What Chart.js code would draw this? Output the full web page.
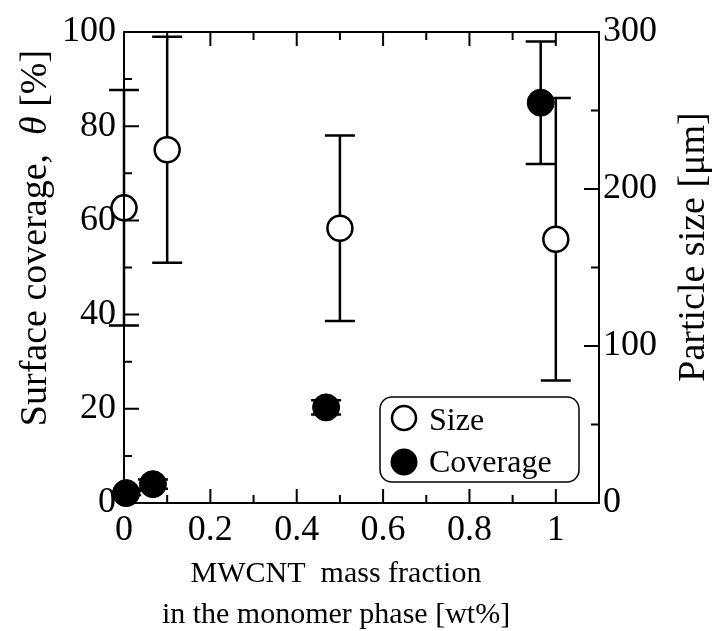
<!DOCTYPE html>
<html>
<head>
<meta charset="utf-8">
<script src="https://cdn.jsdelivr.net/npm/chart.js@4.4.1/dist/chart.umd.min.js"></script>
<style>
  html, body { margin: 0; padding: 0; background: #fff; }
  #wrap { width: 718px; height: 631px; }
</style>
</head>
<body>
<div id="wrap"><canvas id="chart" width="718" height="631"></canvas></div>
<script>
// values
const sizeX = [0, 0.1, 0.5, 1.0];
const sizeY = [188, 225, 175, 168];        // particle size [um], right axis
const sizeErr = [75, 72, 59, 90];
const coverageX = [0.005, 0.067, 0.468, 0.965];
const coverageY = [2.1, 4.0, 20.3, 85];    // surface coverage [%], left axis
const coverageErr = [0.4, 1.0, 1.5, 13];

// tick positions
const xTicks = [0, 0.2, 0.4, 0.6, 0.8, 1];
const xMinor = [0.1, 0.3, 0.5, 0.7, 0.9];
const leftTicks = [0, 20, 40, 60, 80, 100];
const leftMinor = [10, 30, 50, 70, 90];
const rightTicks = [0, 100, 200, 300];
const rightMinor = [50, 150, 250];

const FONT = "'Liberation Serif', 'Times New Roman', serif";
Chart.defaults.font.family = FONT;
Chart.defaults.color = "#000";

// error bars, drawn under the markers
const errorBars = {
  id: "errorBars",
  beforeDatasetsDraw(chart) {
    const { ctx, scales } = chart;
    const draw = (xs, ys, errs, yScale, lw) => {
      ctx.save();
      ctx.strokeStyle = "#000";
      ctx.lineWidth = lw;
      xs.forEach((x, i) => {
        const px = scales.x.getPixelForValue(x);
        const top = yScale.getPixelForValue(ys[i] + errs[i]);
        const bot = yScale.getPixelForValue(ys[i] - errs[i]);
        ctx.beginPath();
        ctx.moveTo(px, top);
        ctx.lineTo(px, bot);
        ctx.moveTo(px - 15, top);
        ctx.lineTo(px + 15, top);
        ctx.moveTo(px - 15, bot);
        ctx.lineTo(px + 15, bot);
        ctx.stroke();
      });
      ctx.restore();
    };
    draw(sizeX, sizeY, sizeErr, scales.y2, 2.5);
    draw(coverageX, coverageY, coverageErr, scales.y, 2.5);
  },
};

// frame, inward ticks, titles and legend
const decorations = {
  id: "decorations",
  afterDraw(chart) {
    const { ctx, chartArea: a, scales } = chart;
    ctx.save();
    ctx.strokeStyle = "#000";
    ctx.lineWidth = 2;
    ctx.strokeRect(a.left, a.top, a.right - a.left, a.bottom - a.top);

    ctx.beginPath();
    const xt = (vals, len) => vals.forEach((v) => {
      const p = scales.x.getPixelForValue(v);
      ctx.moveTo(p, a.bottom); ctx.lineTo(p, a.bottom - len);
      ctx.moveTo(p, a.top); ctx.lineTo(p, a.top + len);
    });
    xt(xTicks, 14);
    xt(xMinor, 8);
    const lt = (vals, len) => vals.forEach((v) => {
      const p = scales.y.getPixelForValue(v);
      ctx.moveTo(a.left, p); ctx.lineTo(a.left + len, p);
    });
    lt(leftTicks, 15);
    lt(leftMinor, 8);
    const rt = (vals, len) => vals.forEach((v) => {
      const p = scales.y2.getPixelForValue(v);
      ctx.moveTo(a.right, p); ctx.lineTo(a.right - len, p);
    });
    rt(rightTicks, 15);
    rt(rightMinor, 8);
    ctx.stroke();

    // axis titles
    ctx.fillStyle = "#000";
    ctx.textBaseline = "middle";
    const normal = "38px " + FONT;
    const italic = "italic 38px " + FONT;
    const parts = [["Surface coverage,  ", normal], ["\u03b8", italic], [" [%]", normal]];
    let total = 0;
    parts.forEach(([t, f]) => { ctx.font = f; total += ctx.measureText(t).width; });
    ctx.save();
    ctx.translate(36, 238);
    ctx.rotate(-Math.PI / 2);
    let off = -total / 2;
    ctx.textAlign = "left";
    parts.forEach(([t, f]) => {
      ctx.font = f;
      ctx.fillText(t, off, 0);
      off += ctx.measureText(t).width;
    });
    ctx.restore();

    ctx.save();
    ctx.translate(694, 247);
    ctx.rotate(-Math.PI / 2);
    ctx.font = normal;
    ctx.textAlign = "center";
    ctx.fillText("Particle size [\u03bcm]", 0, 0);
    ctx.restore();

    ctx.font = "30px " + FONT;
    ctx.textAlign = "center";
    ctx.textBaseline = "alphabetic";
    ctx.fillText("MWCNT  mass fraction", 336, 582);
    ctx.fillText("in the monomer phase [wt%]", 336, 623);

    // legend
    ctx.lineWidth = 1.5;
    ctx.beginPath();
    ctx.roundRect(380, 397, 199, 85, 12);
    ctx.fillStyle = "#fff";
    ctx.fill();
    ctx.stroke();
    ctx.lineWidth = 2.5;
    ctx.beginPath();
    ctx.arc(404, 418, 12, 0, Math.PI * 2);
    ctx.stroke();
    ctx.fillStyle = "#000";
    ctx.beginPath();
    ctx.arc(404, 462, 13.5, 0, Math.PI * 2);
    ctx.fill();
    ctx.font = "32px " + FONT;
    ctx.textAlign = "left";
    ctx.fillText("Size", 429, 430);
    ctx.fillText("Coverage", 429, 472);
    ctx.restore();
  },
};

const fmt = (v) => String(Math.round(v * 10) / 10);

const makeChart = () => new Chart(document.getElementById("chart"), {
  type: "scatter",
  data: {
    datasets: [
      {
        label: "Size",
        data: sizeX.map((x, i) => ({ x, y: sizeY[i] })),
        yAxisID: "y2",
        pointRadius: 12.5,
        pointBorderWidth: 2.5,
        pointBorderColor: "#000",
        pointBackgroundColor: "#fff",
        clip: false,
      },
      {
        label: "Coverage",
        data: coverageX.map((x, i) => ({ x, y: coverageY[i] })),
        yAxisID: "y",
        pointRadius: 13.5,
        pointBorderWidth: 1,
        pointBorderColor: "#000",
        pointBackgroundColor: "#000",
        clip: false,
      },
    ],
  },
  options: {
    responsive: false,
    animation: false,
    events: [],
    layout: { padding: { top: 32, left: 0, right: 0, bottom: 0 } },
    plugins: { legend: { display: false }, tooltip: { enabled: false } },
    scales: {
      x: {
        type: "linear",
        min: 0,
        max: 1.1,
        grid: { display: false, drawTicks: false },
        border: { display: false },
        afterBuildTicks: (s) => { s.ticks = xTicks.map((v) => ({ value: v })); },
        afterFit: (s) => { s.height = 128; },
        ticks: { font: { size: 36 }, padding: 6, maxRotation: 0, autoSkip: false, callback: fmt },
      },
      y: {
        position: "left",
        min: 0,
        max: 100,
        grid: { display: false, drawTicks: false },
        border: { display: false },
        afterBuildTicks: (s) => { s.ticks = leftTicks.map((v) => ({ value: v })); },
        afterFit: (s) => { s.width = 124; },
        ticks: { font: { size: 36 }, padding: 8, autoSkip: false, callback: fmt },
      },
      y2: {
        position: "right",
        min: 0,
        max: 300,
        grid: { display: false, drawTicks: false },
        border: { display: false },
        afterBuildTicks: (s) => { s.ticks = rightTicks.map((v) => ({ value: v })); },
        afterFit: (s) => { s.width = 119; },
        ticks: { font: { size: 36 }, padding: 4, autoSkip: false, callback: fmt },
      },
    },
  },
  plugins: [errorBars, decorations],
});

// make sure the serif face is ready before drawing on the canvas
Promise.all([
  document.fonts.load("38px 'Liberation Serif'"),
  document.fonts.load("italic 38px 'Liberation Serif'"),
]).then(makeChart, makeChart);
</script>
</body>
</html>
